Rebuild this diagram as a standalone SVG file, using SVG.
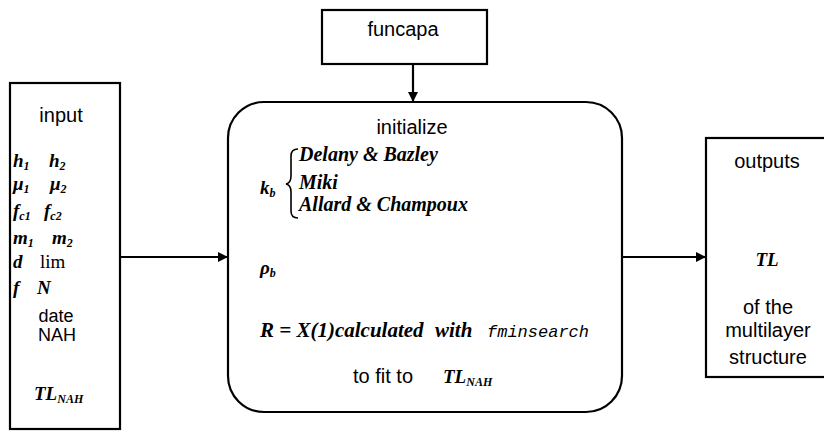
<svg xmlns="http://www.w3.org/2000/svg" width="824" height="431" viewBox="0 0 824 431">
<defs>
<marker id="ah" viewBox="0 0 10 10" refX="10" refY="5" markerWidth="10" markerHeight="10" markerUnits="userSpaceOnUse" orient="auto">
<path d="M0,0 L10,5 L0,10 z" fill="#000"/>
</marker>
<style>
.box{fill:#fff;stroke:#000;stroke-width:2.2}
.sans{font-family:"Liberation Sans",Arial,sans-serif;font-size:20px;fill:#000}
.sm{font-size:18px}
.m{font-family:"Liberation Serif","Times New Roman",serif;font-style:italic;font-weight:bold;font-size:19px;fill:#000}
.c{font-size:20px}
.r{font-size:21px}
.sub{font-size:12px}
.up{font-family:"Liberation Serif","Times New Roman",serif;font-size:19px;fill:#000}
.ml{font-family:"Liberation Mono","Courier New",monospace;font-style:italic;font-weight:normal;font-size:17px}
.conn{stroke:#000;stroke-width:2.2;fill:none}
</style>
</defs>
<rect width="824" height="431" fill="#fff"/>

<g id="connectors">
<line class="conn" x1="413" y1="64" x2="413" y2="102" marker-end="url(#ah)"/>
<line class="conn" x1="121" y1="257" x2="228" y2="257" marker-end="url(#ah)"/>
<line class="conn" x1="622" y1="257" x2="706" y2="257" marker-end="url(#ah)"/>
</g>

<g id="funcapa">
<rect class="box" x="322" y="10" width="165" height="54"/>
<text class="sans" x="403" y="36" text-anchor="middle">funcapa</text>
</g>

<g id="input">
<rect class="box" x="10" y="83" width="110" height="346"/>
<text class="sans" x="61" y="122" text-anchor="middle">input</text>
<text class="m" x="13" y="167">h<tspan class="sub" dy="3">1</tspan></text>
<text class="m" x="49" y="167">h<tspan class="sub" dy="3">2</tspan></text>
<text class="m" x="13" y="190">μ<tspan class="sub" dy="3">1</tspan></text>
<text class="m" x="50" y="190">μ<tspan class="sub" dy="3">2</tspan></text>
<text class="m" x="13" y="217">f<tspan class="sub" dy="3">c1</tspan></text>
<text class="m" x="44" y="217">f<tspan class="sub" dy="3">c2</tspan></text>
<text class="m" x="13" y="244">m<tspan class="sub" dy="3">1</tspan></text>
<text class="m" x="52" y="244">m<tspan class="sub" dy="3">2</tspan></text>
<text class="m" x="13" y="268">d</text>
<text class="up" x="40" y="268">lim</text>
<text class="m" x="13" y="294">f</text>
<text class="m" x="37" y="294">N</text>
<text class="sans sm" x="56" y="322" text-anchor="middle">date</text>
<text class="sans sm" x="57" y="341" text-anchor="middle">NAH</text>
<text class="m" x="34" y="400">TL<tspan class="sub" dy="3">NAH</tspan></text>
</g>

<g id="initialize">
<rect class="box" x="228" y="102" width="394" height="310" rx="36" ry="36"/>
<text class="sans" x="412" y="134" text-anchor="middle">initialize</text>
<text class="m" x="260" y="194">k<tspan class="sub" dy="3">b</tspan></text>
<path d="M298,149 Q291,149 291,156 L291,176 Q291,183 286,184 Q291,185 291,192 L291,211 Q291,218 298,218" fill="none" stroke="#000" stroke-width="1.6"/>
<text class="m c" x="299" y="161">Delany &amp; Bazley</text>
<text class="m c" x="299" y="189">Miki</text>
<text class="m c" x="299" y="211">Allard &amp; Champoux</text>
<text class="m" x="260" y="274">ρ<tspan class="sub" dy="3">b</tspan></text>
<text class="m r" x="260" y="337">R = X(1)calculated<tspan x="435">with</tspan><tspan class="ml" x="487">fminsearch</tspan></text>
<text class="sans" x="353" y="383">to fit to</text>
<text class="m" x="443" y="383">TL<tspan class="sub" dy="3">NAH</tspan></text>
</g>

<g id="outputs">
<rect class="box" x="706" y="138" width="126" height="239"/>
<text class="sans" x="767" y="168" text-anchor="middle">outputs</text>
<text class="m" x="767" y="266" text-anchor="middle">TL</text>
<text class="sans" x="768" y="314" text-anchor="middle">of the</text>
<text class="sans" x="768" y="337" text-anchor="middle">multilayer</text>
<text class="sans" x="768" y="364" text-anchor="middle">structure</text>
</g>
</svg>
